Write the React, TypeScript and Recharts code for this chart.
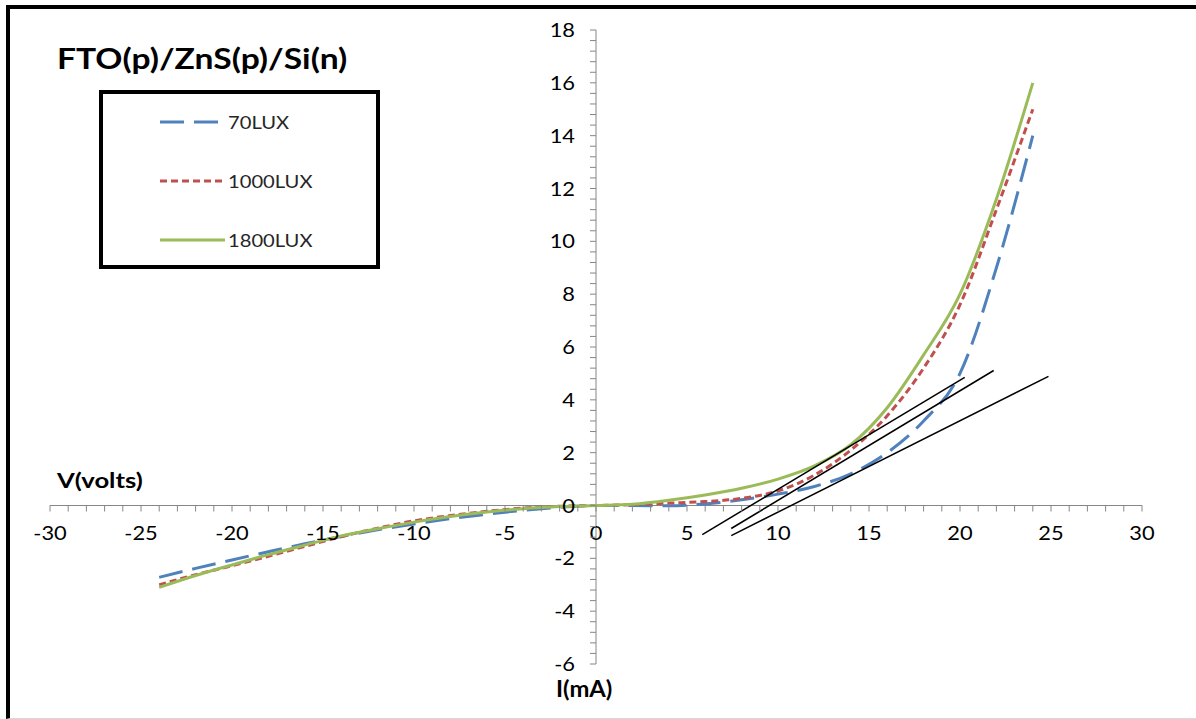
import React from 'react';
import { LineChart, Line, XAxis, YAxis, ReferenceLine, ReferenceDot } from 'recharts';

// I (mA) sample points shared by the three light levels
const current = [-24, -22, -20, -18, -16, -14, -12, -10, -8, -6, -4, -2, 0, 2, 4, 6, 8, 10, 12, 14, 16, 18, 20, 22, 24];

// V (volts)
const v70 = [-2.72, -2.38, -2.06, -1.75, -1.45, -1.17, -0.92, -0.7, -0.5, -0.33, -0.18, -0.07, 0, 0, -0.01, 0.06, 0.22, 0.43, 0.72, 1.2, 2.0, 3.2, 5.0, 9.0, 14.0];
const v1000 = [-3.0, -2.62, -2.28, -1.92, -1.55, -1.18, -0.86, -0.58, -0.38, -0.22, -0.1, -0.03, 0, 0.03, 0.09, 0.15, 0.27, 0.55, 1.15, 2.1, 3.4, 5.2, 7.6, 11.2, 15.0];
const v1800 = [-3.1, -2.65, -2.25, -1.86, -1.5, -1.15, -0.88, -0.63, -0.42, -0.25, -0.12, -0.04, 0, 0.05, 0.2, 0.4, 0.65, 1.0, 1.5, 2.3, 3.7, 5.7, 8.0, 11.6, 16.0];

const seriesNames = ['70LUX', '1000LUX', '1800LUX'];

// hand-drawn tangent lines (I, V end points)
const tangentA = [{ i: 5.84, v: -1.1 }, { i: 20.26, v: 4.85 }];
const tangentB = [{ i: 7.43, v: -0.87 }, { i: 21.85, v: 5.11 }];
const tangentC = [{ i: 7.43, v: -1.14 }, { i: 24.86, v: 4.89 }];

const xTickLabels = [-30, -25, -20, -15, -10, -5, 0, 5, 10, 15, 20, 25, 30];
const yTickLabels = [-6, -4, -2, 0, 2, 4, 6, 8, 10, 12, 14, 16, 18];

const xMinorTicks = Array.from({ length: 61 }, (_, k) => k - 30);
const yMinorTicks = Array.from({ length: 61 }, (_, k) => Math.round((-6 + k * 0.4) * 10) / 10);

const data = current.map((i, k) => ({ i, v70: v70[k], v1000: v1000[k], v1800: v1800[k] }));

const FONT = 'Lato, "Liberation Sans", sans-serif';
const GREY = '#868686';
const styles = [
  { key: 'v70', color: '#4F81BD', dash: '24 10' },
  { key: 'v1000', color: '#C0504D', dash: '7 4' },
  { key: 'v1800', color: '#9BBB59', dash: undefined },
];

// the original picture is a little stretched sideways, so text is widened
const STRETCH = 1.15;

const xTick = (value: number) => (p: any) => (
  <g>
    <line x1={p.cx} y1={p.cy} x2={p.cx} y2={p.cy + 6} stroke={GREY} strokeWidth={1} />
    {xTickLabels.includes(value) && (
      <text transform={`translate(${p.cx},${p.cy + 34}) scale(${STRETCH},1)`} textAnchor="middle" fontSize={19} fontFamily={FONT} fill="#000">
        {value}
      </text>
    )}
  </g>
);

const yTick = (value: number) => (p: any) => (
  <g>
    <line x1={p.cx - 6} y1={p.cy} x2={p.cx} y2={p.cy} stroke={GREY} strokeWidth={1} />
    {yTickLabels.includes(value) && (
      <text transform={`translate(${p.cx - 21},${p.cy + 7}) scale(${STRETCH},1)`} textAnchor="end" fontSize={19} fontFamily={FONT} fill="#000">
        {value}
      </text>
    )}
  </g>
);

const label = (left: number, top: number, size: number, sx: number): React.CSSProperties => ({
  position: 'absolute', left, top, fontSize: size, fontWeight: 700, lineHeight: `${size + 4}px`, color: '#000',
  whiteSpace: 'nowrap', transform: `scaleX(${sx})`, transformOrigin: 'left center',
});

export default function App() {
  return (
    <div style={{ position: 'absolute', left: 0, top: 0, width: 1196, height: 719, background: '#fff', fontFamily: FONT }}>
      <div style={{ position: 'absolute', left: 6, top: 5, right: 0, bottom: 0, borderTop: '4px solid #000', borderLeft: '4px solid #000', borderBottom: '1px solid #d9d9d9' }} />
      <LineChart width={1196} height={719} data={data} margin={{ top: 30, right: 54, bottom: 55, left: 50 }} style={{ position: 'absolute', left: 0, top: 0 }}>
        <XAxis type="number" dataKey="i" domain={[-30, 30]} hide />
        <YAxis type="number" domain={[-6, 18]} hide />
        <ReferenceLine y={0} stroke={GREY} strokeWidth={1} />
        <ReferenceLine x={0} stroke={GREY} strokeWidth={1} />
        {xMinorTicks.map((t) => (
          <ReferenceDot key={'x' + t} x={t} y={0} r={0} shape={xTick(t)} ifOverflow="visible" />
        ))}
        {yMinorTicks.map((t) => (
          <ReferenceDot key={'y' + t} x={0} y={t} r={0} shape={yTick(t)} ifOverflow="visible" />
        ))}
        {styles.map((s) => (
          <Line key={s.key} type="monotone" dataKey={s.key} stroke={s.color} strokeWidth={3} strokeDasharray={s.dash} dot={false} isAnimationActive={false} />
        ))}
        {[tangentA, tangentB, tangentC].map((seg, k) => (
          <ReferenceLine key={'t' + k} segment={seg.map((p) => ({ x: p.i, y: p.v }))} stroke="#000" strokeWidth={1.5} ifOverflow="visible" />
        ))}
      </LineChart>
      <div style={label(57, 42, 28, 1.2)}>FTO(p)/ZnS(p)/Si(n)</div>
      <div style={label(57, 467, 21, 1.22)}>V(volts)</div>
      <div style={label(556, 676, 22, 1.08)}>I(mA)</div>
      <div style={{ position: 'absolute', left: 99, top: 90, width: 281, height: 179, boxSizing: 'border-box', border: '4px solid #000', background: '#fff' }}>
        <svg width={273} height={171} style={{ display: 'block' }}>
          {styles.map((s, k) => (
            <g key={s.key}>
              <line x1={57} x2={122} y1={28 + k * 59} y2={28 + k * 59} stroke={s.color} strokeWidth={3} strokeDasharray={s.dash} />
              <text transform={`translate(125,${35 + k * 59}) scale(1.12,1)`} fontSize={18} fontFamily={FONT} fill="#262626">
                {seriesNames[k]}
              </text>
            </g>
          ))}
        </svg>
      </div>
    </div>
  );
}
